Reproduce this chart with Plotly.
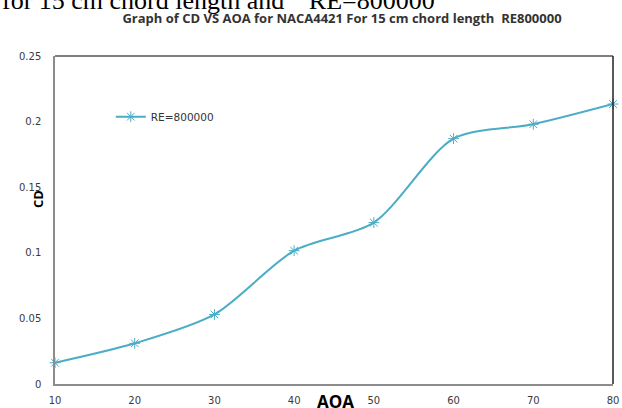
import plotly.graph_objects as go

aoa = [10, 20, 30, 40, 50, 60, 70, 80]
cd = [0.0162, 0.031, 0.053, 0.1016, 0.123, 0.187, 0.198, 0.2134]
x_ticks = [10, 20, 30, 40, 50, 60, 70, 80]
y_ticks = [0, 0.05, 0.1, 0.15, 0.2, 0.25]
y_labels = ["0", "0.05", "0.1", "0.15", "0.2", "0.25"]

line_color = "#4bacc6"
tick_font = dict(family="DejaVu Sans", size=10, color="#3a3a3a")

fig = go.Figure()
fig.add_trace(
    go.Scatter(
        x=aoa,
        y=cd,
        mode="lines+markers",
        name="RE=800000",
        line=dict(color=line_color, width=2, shape="spline", smoothing=0.8),
        marker=dict(symbol="asterisk-open", size=9, color=line_color,
                    line=dict(color=line_color, width=1)),
        cliponaxis=False,
    )
)

fig.update_layout(
    width=622,
    height=408,
    margin=dict(l=55, r=9, t=56, b=24),
    paper_bgcolor="white",
    plot_bgcolor="white",
    showlegend=True,
    legend=dict(x=0.1, y=0.815, xanchor="left", yanchor="middle",
                bgcolor="rgba(0,0,0,0)", font=dict(family="DejaVu Sans", size=10.5, color="#333333"),
                itemwidth=30),
    title=dict(
        text="<b>Graph of CD VS AOA for NACA4421 For 15 cm chord length  RE800000</b>",
        x=342 / 622, xanchor="center", y=1 - 18 / 408, yanchor="middle",
        font=dict(family="Open Sans", size=13, color="#333333"),
    ),
    xaxis=dict(
        range=[10, 80], tickvals=x_ticks, ticks="", showgrid=False,
        showline=True, linecolor="#8c8c8c", linewidth=1.5, mirror=False,
        tickfont=tick_font, ticklabelstandoff=6, zeroline=False, automargin=False,
    ),
    yaxis=dict(
        range=[0, 0.25], tickvals=y_ticks, ticktext=y_labels, ticks="", showgrid=False,
        showline=True, linecolor="#8c8c8c", linewidth=1.5, mirror=False,
        tickfont=tick_font, ticklabelstandoff=10, zeroline=False, automargin=False,
    ),
    shapes=[
        dict(type="line", xref="paper", yref="paper", x0=0, x1=1, y0=1, y1=1,
             line=dict(color="#555555", width=1.5)),
        dict(type="line", xref="paper", yref="paper", x0=1, x1=1, y0=0, y1=1,
             line=dict(color="#222222", width=1.5)),
    ],
    annotations=[
        dict(text="<b>CD</b>", xref="paper", yref="paper", x=(38 - 55) / 558, y=(384 - 199) / 328,
             xanchor="center", yanchor="middle", textangle=-90, showarrow=False,
             font=dict(family="Open Sans", size=13, color="black")),
        dict(text="<b>AOA</b>", xref="paper", yref="paper", x=(335 - 55) / 558, y=-(401 - 384) / 328,
             xanchor="center", yanchor="middle", showarrow=False,
             font=dict(family="Open Sans", size=17, color="black")),
        dict(text="for 15 cm chord length and  \u201cRE=800000", xref="paper", yref="paper",
             x=-55 / 558, y=1 + 56 / 328, xanchor="left", yanchor="middle",
             showarrow=False,
             font=dict(family="Liberation Serif", size=26, color="black")),
    ],
)

fig.write_html("out.html", config={"displayModeBar": False},
               post_script="document.body.style.margin='0';")
